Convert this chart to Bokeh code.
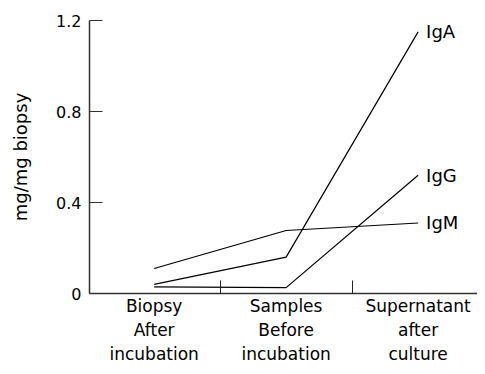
from bokeh.plotting import figure
from bokeh.models import FixedTicker, Range1d, ColumnDataSource
from bokeh.core.properties import value
from bokeh.embed import file_html
from bokeh.resources import INLINE

categories = ["Biopsy\nAfter\nincubation", "Samples\nBefore\nincubation", "Supernatant\nafter\nculture"]
series_names = ["IgA", "IgG", "IgM"]
iga = [0.04, 0.16, 1.15]
igg = [0.029, 0.026, 0.52]
igm = [0.11, 0.277, 0.31]
y_ticks = [0, 0.4, 0.8, 1.2]
y_tick_labels = ["0", "0.4", "0.8", "1.2"]

FONT = "DejaVu Sans"
xs = list(range(len(categories)))

p = figure(width=477, height=366, output_backend="svg", toolbar_location=None,
           x_range=Range1d(-0.49, 2.45), y_range=Range1d(0, 1.2),
           min_border_top=20, min_border_right=0, min_border_left=89, min_border_bottom=66)
p.outline_line_color = None
p.grid.grid_line_color = None

for vals in (iga, igg, igm):
    p.line(xs, vals, line_color="black", line_width=1.2)

lab = ColumnDataSource(dict(x=[xs[-1]] * 3, y=[iga[-1], igg[-1], igm[-1]], t=series_names))
p.text(x="x", y="y", text="t", source=lab, x_offset=8, text_align="left",
       text_baseline="middle", text_font=value(FONT), text_font_size="18px", text_color="black")

# x axis
xa = p.xaxis[0]
xa.ticker = FixedTicker(ticks=xs, minor_ticks=[0.5, 1.5])
xa.major_label_overrides = {i: c for i, c in enumerate(categories)}
xa.major_tick_in = 0
xa.major_tick_out = 0
xa.minor_tick_in = 13
xa.minor_tick_out = 0
xa.minor_tick_line_color = "#222222"
xa.axis_line_color = "#333333"
xa.axis_line_width = 1.5
xa.major_label_text_font = FONT
xa.major_label_text_font_size = "17px"
xa.major_label_text_color = "black"
xa.major_label_standoff = 2

# y axis
ya = p.yaxis[0]
ya.ticker = FixedTicker(ticks=y_ticks, minor_ticks=[])
ya.major_label_overrides = {t: l for t, l in zip(y_ticks, y_tick_labels)}
ya.major_tick_in = 13
ya.major_tick_out = 0
ya.major_tick_line_color = "#333333"
ya.axis_line_color = "#333333"
ya.axis_line_width = 1.5
ya.major_label_text_font = FONT
ya.major_label_text_font_size = "16px"
ya.major_label_text_color = "black"
ya.major_label_standoff = 8
ya.axis_label = "mg/mg biopsy"
ya.axis_label_text_font = FONT
ya.axis_label_text_font_size = "18px"
ya.axis_label_text_font_style = "normal"
ya.axis_label_text_color = "black"
ya.axis_label_standoff = 22

open("out.html", "w").write(file_html(p, INLINE))
